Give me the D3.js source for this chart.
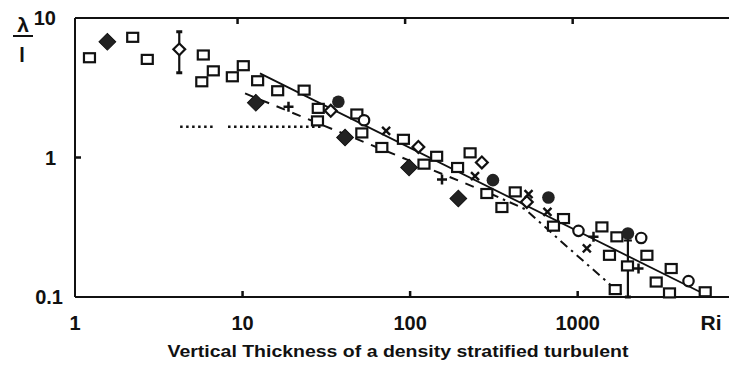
<!DOCTYPE html>
<html>
<head>
<meta charset="utf-8">
<script src="https://cdn.jsdelivr.net/npm/d3@7"></script>
<style>
  body { margin: 0; background: #fff; }
  text { font-family: "Liberation Sans", Arial, sans-serif; font-weight: bold; fill: #111; }
</style>
</head>
<body>
<script>
// axis ticks
var xTicks = [1, 10, 100, 1000];
var xTickLabels = ["1", "10", "100", "1000"];
var yTicks = [0.1, 1, 10];
var yTickLabels = ["0.1", "1", "10"];

// series, [Ri, lambda/l]
var openSquares = [[1.22,5.19],[2.21,7.27],[2.70,5.05],[5.83,5.43],[6.69,4.18],[5.71,3.49],[8.69,3.79],
  [10.1,4.55],[12.3,3.55],[16.2,3.01],[23.3,3.04],[28.3,2.25],[28.0,1.83],[48.1,2.05],[51.5,1.50],
  [67.8,1.18],[91.2,1.35],[144,1.02],[121,0.896],[192,0.848],[228,1.08],[287,0.552],[353,0.438],
  [424,0.567],[823,0.365],[717,0.322],[1395,0.318],[1714,0.270],[1548,0.199],[2589,0.199],
  [1983,0.167],[3615,0.160],[2942,0.128],[1675,0.113],[3532,0.107],[5770,0.109]];
var filledDiamonds = [[1.56,6.76],[12.0,2.47],[40.9,1.39],[98.6,0.848],[194,0.508]];
var openDiamonds = [[4.19,5.96],[33.6,2.16],[112,1.19],[268,0.922],[497,0.480]];
var filledCircles = [[37.3,2.51],[312,0.688],[669,0.517],[1994,0.285]];
var openCircles = [[53.1,1.85],[1011,0.298],[2394,0.265],[4586,0.130]];
var plusMarks = [[18.8,2.31],[155,0.696],[1243,0.270],[2307,0.160]];
var crossMarks = [[71.9,1.55],[244,0.735],[509,0.546],[660,0.407],[1134,0.223]];

// error bars [Ri, low, high]
var errorBars = [[4.19,4.05,7.97],[1994,0.1,0.285]];

// fitted lines
var solidLine = [[12.7,4.01],[5386,0.1086]];
var dashedLine = [[10.35,2.88],[300,0.552]];
var dashDotLine = [[300,0.552],[486,0.426],[819,0.243],[1895,0.1]];
var dottedLine1 = [[4.24,1.66],[6.67,1.66]];
var dottedLine2 = [[8.19,1.66],[30.2,1.66]];

var W = 729, H = 366;
var ink = "#111";

var svg = d3.select("body").append("svg").attr("width", W).attr("height", H);

var x = d3.scaleLog().domain([1, 8000]).range([75, 729]);
var y = d3.scaleLog().domain([0.1, 10]).range([297, 18]);

// frame
svg.append("line").attr("x1", 75).attr("x2", W).attr("y1", y(0.1)).attr("y2", y(0.1))
  .attr("stroke", ink).attr("stroke-width", 2);
svg.append("line").attr("x1", 75).attr("x2", W).attr("y1", y(10)).attr("y2", y(10))
  .attr("stroke", ink).attr("stroke-width", 2);
svg.append("line").attr("x1", x(1)).attr("x2", x(1)).attr("y1", y(10)).attr("y2", y(0.1))
  .attr("stroke", ink).attr("stroke-width", 2);

// ticks (top ones sit a few px left in the scan)
svg.selectAll("line.bt").data(xTicks.slice(1)).enter().append("line")
  .attr("x1", d => x(d)).attr("x2", d => x(d))
  .attr("y1", y(0.1)).attr("y2", y(0.1) - 6)
  .attr("stroke", ink).attr("stroke-width", 2.5);
svg.selectAll("line.tt").data(xTicks.slice(1)).enter().append("line")
  .attr("x1", d => x(d) - 5).attr("x2", d => x(d) - 5)
  .attr("y1", y(10)).attr("y2", y(10) + 6)
  .attr("stroke", ink).attr("stroke-width", 2.5);
svg.append("line").attr("x1", x(1)).attr("x2", x(1) + 6).attr("y1", y(1)).attr("y2", y(1))
  .attr("stroke", ink).attr("stroke-width", 2.5);

// tick labels
svg.selectAll("text.xl").data(xTicks).enter().append("text")
  .attr("x", d => x(d)).attr("y", 330)
  .attr("text-anchor", "middle").attr("font-size", 20)
  .text((d, i) => xTickLabels[i]);
svg.selectAll("text.yl").data(yTicks).enter().append("text")
  .attr("x", d => d < 0.5 ? 63 : 56).attr("y", d => y(d) + 7)
  .attr("text-anchor", "end").attr("font-size", 20)
  .text((d, i) => yTickLabels[i]);

svg.append("text").attr("x", 711).attr("y", 330).attr("text-anchor", "middle")
  .attr("font-size", 21).text("Ri");
svg.append("text").attr("x", 398).attr("y", 357).attr("text-anchor", "middle")
  .attr("font-size", 17).attr("textLength", 461).attr("lengthAdjust", "spacingAndGlyphs")
  .text("Vertical Thickness of a density stratified turbulent");

// y label lambda / l
svg.append("text").attr("x", 23).attr("y", 32).attr("text-anchor", "middle")
  .attr("font-size", 21).text("λ");
svg.append("line").attr("x1", 13).attr("x2", 33).attr("y1", 36).attr("y2", 36)
  .attr("stroke", ink).attr("stroke-width", 2);
svg.append("text").attr("x", 22).attr("y", 62).attr("text-anchor", "middle")
  .attr("font-size", 20).text("l");

// lines
var line = d3.line().x(d => x(d[0])).y(d => y(d[1]));
function drawLine(data, dash, w) {
  svg.append("path").datum(data).attr("d", line)
    .attr("fill", "none").attr("stroke", ink).attr("stroke-width", w)
    .attr("stroke-dasharray", dash);
}
drawLine(solidLine, null, 1.8);
drawLine(dashedLine, "9,8", 2);
drawLine(dashDotLine, "9,5,2.5,5", 2);
drawLine(dottedLine1, "2.5,3.5", 2.5);
drawLine(dottedLine2, "2.5,3.5", 2.5);

// error bars
errorBars.forEach(function(e) {
  var cx = x(e[0]);
  svg.append("line").attr("x1", cx).attr("x2", cx).attr("y1", y(e[1])).attr("y2", y(e[2]))
    .attr("stroke", ink).attr("stroke-width", 2.2);
  [e[1], e[2]].forEach(function(v) {
    svg.append("line").attr("x1", cx - 3).attr("x2", cx + 3).attr("y1", y(v)).attr("y2", y(v))
      .attr("stroke", ink).attr("stroke-width", 3);
  });
});
svg.append("line").attr("x1", x(1994) - 4).attr("x2", x(1994) + 4)
  .attr("y1", y(0.254)).attr("y2", y(0.254)).attr("stroke", ink).attr("stroke-width", 2);

// markers
svg.selectAll("rect.sq").data(openSquares).enter().append("rect")
  .attr("x", d => x(d[0]) - 5.5).attr("y", d => y(d[1]) - 4.5)
  .attr("width", 11).attr("height", 9)
  .attr("fill", "#fff").attr("stroke", ink).attr("stroke-width", 2.2);

var diamond = d3.symbol().type(d3.symbolSquare);
svg.selectAll("path.fd").data(filledDiamonds).enter().append("path")
  .attr("d", diamond.size(140))
  .attr("transform", d => "translate(" + x(d[0]) + "," + y(d[1]) + ") rotate(45)")
  .attr("fill", "#222").attr("stroke", ink).attr("stroke-width", 1);
svg.selectAll("path.od").data(openDiamonds).enter().append("path")
  .attr("d", d3.symbol().type(d3.symbolSquare).size(70))
  .attr("transform", d => "translate(" + x(d[0]) + "," + y(d[1]) + ") rotate(45)")
  .attr("fill", "#fff").attr("stroke", ink).attr("stroke-width", 2.2);

svg.selectAll("circle.fc").data(filledCircles).enter().append("circle")
  .attr("cx", d => x(d[0])).attr("cy", d => y(d[1])).attr("r", 6.3)
  .attr("fill", "#222");
svg.selectAll("circle.oc").data(openCircles).enter().append("circle")
  .attr("cx", d => x(d[0])).attr("cy", d => y(d[1])).attr("r", 5.2)
  .attr("fill", "#fff").attr("stroke", ink).attr("stroke-width", 2.2);

svg.selectAll("path.pl").data(plusMarks).enter().append("path")
  .attr("d", d => {
    var cx = x(d[0]), cy = y(d[1]);
    return "M" + (cx - 5) + "," + cy + "H" + (cx + 5) + "M" + cx + "," + (cy - 5) + "V" + (cy + 5);
  })
  .attr("stroke", ink).attr("stroke-width", 2.5);
svg.selectAll("path.cr").data(crossMarks).enter().append("path")
  .attr("d", d => {
    var cx = x(d[0]), cy = y(d[1]);
    return "M" + (cx - 4) + "," + (cy - 4) + "L" + (cx + 4) + "," + (cy + 4) +
      "M" + (cx + 4) + "," + (cy - 4) + "L" + (cx - 4) + "," + (cy + 4);
  })
  .attr("stroke", ink).attr("stroke-width", 2.4);
</script>
</body>
</html>
